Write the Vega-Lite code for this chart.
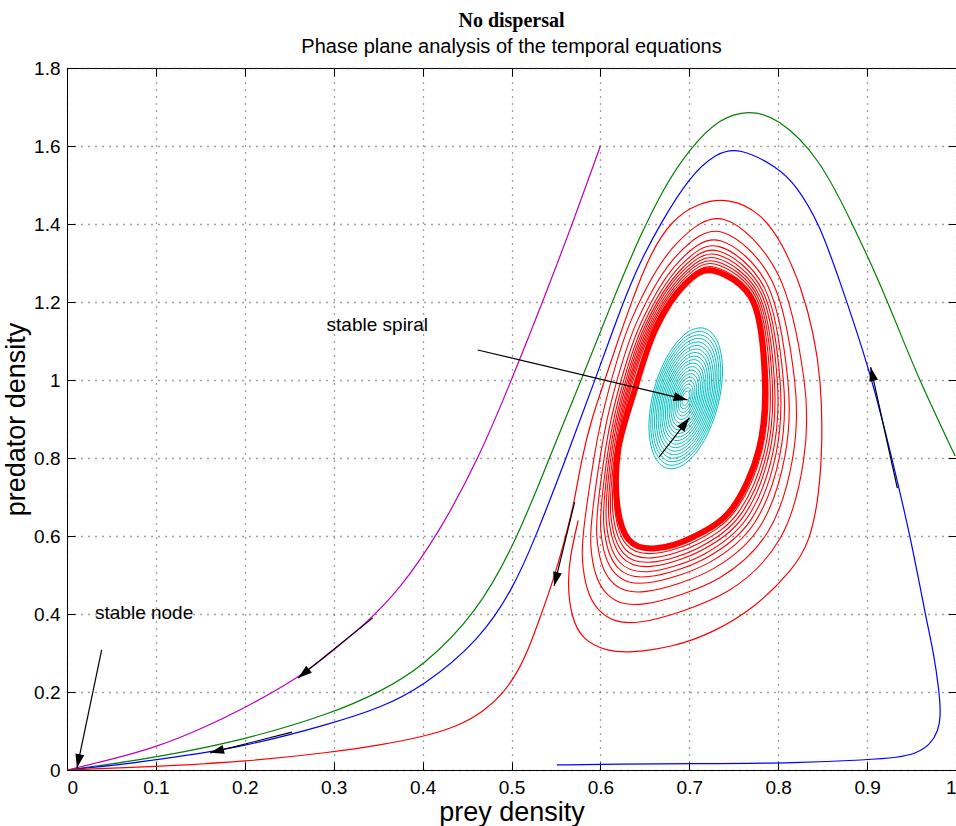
{
"$schema":"https://vega.github.io/schema/vega-lite/v6.json",
"width":889,"height":702,
"autosize":{"type":"none"},
"padding":{"left":67,"top":68,"right":0,"bottom":56},
"background":"white",
"title":{"text":"No dispersal","subtitle":"Phase plane analysis of the temporal equations","font":"Liberation Serif","fontSize":20,"fontWeight":"bold","color":"black","subtitleFont":"Liberation Sans","subtitleFontSize":20,"subtitleColor":"black","subtitlePadding":6,"anchor":"middle","offset":2},
"config":{
"view":{"stroke":"black","strokeWidth":1},
"axis":{"labelFont":"Liberation Sans","labelFontSize":19,"labelColor":"black","titleFont":"Liberation Sans","titleFontSize":27,"titleFontWeight":"normal","titleColor":"black","domainColor":"black","tickColor":"black","gridColor":"#444","gridDash":[1,6],"gridOpacity":1,"gridWidth":1.3,"tickSize":-8}
},
"resolve":{"axis":{"x":"independent","y":"independent"}},
"datasets":{
"open":[
{"s":"m","i":0,"x":0.6,"y":1.6},{"s":"m","i":1,"x":0.569,"y":1.403},{"s":"m","i":2,"x":0.535,"y":1.2},{"s":"m","i":3,"x":0.501,"y":1.005},{"s":"m","i":4,"x":0.464,"y":0.803},{"s":"m","i":5,"x":0.419,"y":0.61},{"s":"m","i":6,"x":0.374,"y":0.462},{"s":"m","i":7,"x":0.337,"y":0.377},{"s":"m","i":8,"x":0.3,"y":0.308},{"s":"m","i":9,"x":0.262,"y":0.238},{"s":"m","i":10,"x":0.2,"y":0.159},{"s":"m","i":11,"x":0.15,"y":0.104},{"s":"m","i":12,"x":0.101,"y":0.059},{"s":"m","i":13,"x":0.05,"y":0.027},{"s":"m","i":14,"x":0,"y":0},
{"s":"g","i":0,"x":0.999,"y":0.805},{"s":"g","i":1,"x":0.958,"y":1.003},{"s":"g","i":2,"x":0.936,"y":1.128},{"s":"g","i":3,"x":0.913,"y":1.256},{"s":"g","i":4,"x":0.883,"y":1.403},{"s":"g","i":5,"x":0.846,"y":1.572},{"s":"g","i":6,"x":0.799,"y":1.674},{"s":"g","i":7,"x":0.767,"y":1.692},{"s":"g","i":8,"x":0.734,"y":1.672},{"s":"g","i":9,"x":0.7,"y":1.592},{"s":"g","i":10,"x":0.672,"y":1.496},{"s":"g","i":11,"x":0.644,"y":1.367},{"s":"g","i":12,"x":0.613,"y":1.2},{"s":"g","i":13,"x":0.58,"y":1.008},{"s":"g","i":14,"x":0.543,"y":0.803},{"s":"g","i":15,"x":0.506,"y":0.59},{"s":"g","i":16,"x":0.461,"y":0.402},{"s":"g","i":17,"x":0.4,"y":0.264},{"s":"g","i":18,"x":0.352,"y":0.2},{"s":"g","i":19,"x":0.299,"y":0.146},{"s":"g","i":20,"x":0.2,"y":0.077},{"s":"g","i":21,"x":0.101,"y":0.033},{"s":"g","i":22,"x":0.05,"y":0.015},{"s":"g","i":23,"x":0,"y":0},
{"s":"b","i":0,"x":0.551,"y":0.013},{"s":"b","i":1,"x":0.621,"y":0.015},{"s":"b","i":2,"x":0.7,"y":0.016},{"s":"b","i":3,"x":0.824,"y":0.018},{"s":"b","i":4,"x":0.899,"y":0.026},{"s":"b","i":5,"x":0.935,"y":0.032},{"s":"b","i":6,"x":0.955,"y":0.042},{"s":"b","i":7,"x":0.971,"y":0.065},{"s":"b","i":8,"x":0.98,"y":0.1},{"s":"b","i":9,"x":0.983,"y":0.14},{"s":"b","i":10,"x":0.981,"y":0.203},{"s":"b","i":11,"x":0.975,"y":0.3},{"s":"b","i":12,"x":0.966,"y":0.392},{"s":"b","i":13,"x":0.949,"y":0.597},{"s":"b","i":14,"x":0.925,"y":0.828},{"s":"b","i":15,"x":0.902,"y":1.033},{"s":"b","i":16,"x":0.869,"y":1.256},{"s":"b","i":17,"x":0.846,"y":1.403},{"s":"b","i":18,"x":0.82,"y":1.5},{"s":"b","i":19,"x":0.799,"y":1.546},{"s":"b","i":20,"x":0.756,"y":1.597},{"s":"b","i":21,"x":0.73,"y":1.582},{"s":"b","i":22,"x":0.7,"y":1.521},{"s":"b","i":23,"x":0.668,"y":1.403},{"s":"b","i":24,"x":0.644,"y":1.3},{"s":"b","i":25,"x":0.625,"y":1.197},{"s":"b","i":26,"x":0.596,"y":1.013},{"s":"b","i":27,"x":0.562,"y":0.803},{"s":"b","i":28,"x":0.526,"y":0.59},{"s":"b","i":29,"x":0.501,"y":0.462},{"s":"b","i":30,"x":0.464,"y":0.333},{"s":"b","i":31,"x":0.4,"y":0.213},{"s":"b","i":32,"x":0.352,"y":0.159},{"s":"b","i":33,"x":0.299,"y":0.12},{"s":"b","i":34,"x":0.2,"y":0.059},{"s":"b","i":35,"x":0.101,"y":0.026},{"s":"b","i":36,"x":0.05,"y":0.011},{"s":"b","i":37,"x":0,"y":0},
{"s":"r","i":0,"x":0.575,"y":0.64},{"s":"r","i":1,"x":0.566,"y":0.55},{"s":"r","i":2,"x":0.563,"y":0.48},{"s":"r","i":3,"x":0.567,"y":0.392},{"s":"r","i":4,"x":0.58,"y":0.333},{"s":"r","i":5,"x":0.607,"y":0.305},{"s":"r","i":6,"x":0.633,"y":0.3},{"s":"r","i":7,"x":0.681,"y":0.315},{"s":"r","i":8,"x":0.726,"y":0.351},{"s":"r","i":9,"x":0.775,"y":0.418},{"s":"r","i":10,"x":0.816,"y":0.513},{"s":"r","i":11,"x":0.835,"y":0.582},{"s":"r","i":12,"x":0.846,"y":0.7},{"s":"r","i":13,"x":0.85,"y":0.85},{"s":"r","i":14,"x":0.848,"y":1.0},{"s":"r","i":15,"x":0.84,"y":1.12},{"s":"r","i":16,"x":0.826,"y":1.238},{"s":"r","i":17,"x":0.805,"y":1.35},{"s":"r","i":18,"x":0.78,"y":1.43},{"s":"r","i":19,"x":0.745,"y":1.467},{"s":"r","i":20,"x":0.71,"y":1.455},{"s":"r","i":21,"x":0.68,"y":1.41},{"s":"r","i":22,"x":0.655,"y":1.32},{"s":"r","i":23,"x":0.635,"y":1.2},{"s":"r","i":24,"x":0.618,"y":1.09},{"s":"r","i":25,"x":0.605,"y":1.0},{"s":"r","i":26,"x":0.59,"y":0.9},{"s":"r","i":27,"x":0.579,"y":0.8},{"s":"r","i":28,"x":0.571,"y":0.69},{"s":"r","i":29,"x":0.56,"y":0.59},{"s":"r","i":30,"x":0.546,"y":0.479},{"s":"r","i":31,"x":0.534,"y":0.403},{"s":"r","i":32,"x":0.521,"y":0.32},{"s":"r","i":33,"x":0.508,"y":0.255},{"s":"r","i":34,"x":0.492,"y":0.2},{"s":"r","i":35,"x":0.47,"y":0.152},{"s":"r","i":36,"x":0.44,"y":0.112},{"s":"r","i":37,"x":0.4,"y":0.085},{"s":"r","i":38,"x":0.352,"y":0.064},{"s":"r","i":39,"x":0.3,"y":0.046},{"s":"r","i":40,"x":0.2,"y":0.021},{"s":"r","i":41,"x":0.1,"y":0.009},{"s":"r","i":42,"x":0,"y":0}
],
"loops":[
{"k":1,"i":0,"x":0.7399,"y":1.411},{"k":1,"i":1,"x":0.8,"y":1.27},{"k":1,"i":2,"x":0.8291,"y":1.0},{"k":1,"i":3,"x":0.8284,"y":0.792},{"k":1,"i":4,"x":0.8019,"y":0.593},{"k":1,"i":5,"x":0.7435,"y":0.459},{"k":1,"i":6,"x":0.646,"y":0.38},{"k":1,"i":7,"x":0.5977,"y":0.412},{"k":1,"i":8,"x":0.5798,"y":0.54},{"k":1,"i":9,"x":0.5884,"y":0.736},{"k":1,"i":10,"x":0.6049,"y":0.935},{"k":1,"i":11,"x":0.6355,"y":1.158},{"k":1,"i":12,"x":0.6845,"y":1.347},
{"k":2,"i":0,"x":0.737,"y":1.379},{"k":2,"i":1,"x":0.7932,"y":1.253},{"k":2,"i":2,"x":0.8184,"y":1.0},{"k":2,"i":3,"x":0.8162,"y":0.799},{"k":2,"i":4,"x":0.7888,"y":0.612},{"k":2,"i":5,"x":0.7342,"y":0.493},{"k":2,"i":6,"x":0.6494,"y":0.426},{"k":2,"i":7,"x":0.606,"y":0.455},{"k":2,"i":8,"x":0.5893,"y":0.574},{"k":2,"i":9,"x":0.5966,"y":0.756},{"k":2,"i":10,"x":0.6122,"y":0.944},{"k":2,"i":11,"x":0.6414,"y":1.151},{"k":2,"i":12,"x":0.687,"y":1.322},
{"k":3,"i":0,"x":0.735,"y":1.357},{"k":3,"i":1,"x":0.7884,"y":1.241},{"k":3,"i":2,"x":0.8108,"y":1.0},{"k":3,"i":3,"x":0.8075,"y":0.804},{"k":3,"i":4,"x":0.7796,"y":0.625},{"k":3,"i":5,"x":0.7276,"y":0.517},{"k":3,"i":6,"x":0.6518,"y":0.458},{"k":3,"i":7,"x":0.6119,"y":0.485},{"k":3,"i":8,"x":0.596,"y":0.598},{"k":3,"i":9,"x":0.6023,"y":0.771},{"k":3,"i":10,"x":0.6174,"y":0.95},{"k":3,"i":11,"x":0.6456,"y":1.146},{"k":3,"i":12,"x":0.6888,"y":1.305},
{"k":4,"i":0,"x":0.7336,"y":1.342},{"k":4,"i":1,"x":0.7852,"y":1.233},{"k":4,"i":2,"x":0.8058,"y":1.0},{"k":4,"i":3,"x":0.8018,"y":0.807},{"k":4,"i":4,"x":0.7734,"y":0.634},{"k":4,"i":5,"x":0.7232,"y":0.533},{"k":4,"i":6,"x":0.6534,"y":0.48},{"k":4,"i":7,"x":0.6158,"y":0.506},{"k":4,"i":8,"x":0.6005,"y":0.614},{"k":4,"i":9,"x":0.6062,"y":0.78},{"k":4,"i":10,"x":0.6208,"y":0.954},{"k":4,"i":11,"x":0.6485,"y":1.143},{"k":4,"i":12,"x":0.6901,"y":1.293},
{"k":5,"i":0,"x":0.7326,"y":1.331},{"k":5,"i":1,"x":0.7828,"y":1.227},{"k":5,"i":2,"x":0.802,"y":1.0},{"k":5,"i":3,"x":0.7974,"y":0.809},{"k":5,"i":4,"x":0.7688,"y":0.64},{"k":5,"i":5,"x":0.7199,"y":0.545},{"k":5,"i":6,"x":0.6546,"y":0.496},{"k":5,"i":7,"x":0.6188,"y":0.521},{"k":5,"i":8,"x":0.6039,"y":0.626},{"k":5,"i":9,"x":0.609,"y":0.788},{"k":5,"i":10,"x":0.6234,"y":0.957},{"k":5,"i":11,"x":0.6506,"y":1.141},{"k":5,"i":12,"x":0.691,"y":1.284},
{"k":6,"i":0,"x":0.7317,"y":1.321},{"k":6,"i":1,"x":0.7808,"y":1.222},{"k":6,"i":2,"x":0.7989,"y":1.0},{"k":6,"i":3,"x":0.7938,"y":0.811},{"k":6,"i":4,"x":0.7649,"y":0.646},{"k":6,"i":5,"x":0.7171,"y":0.554},{"k":6,"i":6,"x":0.6556,"y":0.509},{"k":6,"i":7,"x":0.6212,"y":0.534},{"k":6,"i":8,"x":0.6067,"y":0.636},{"k":6,"i":9,"x":0.6114,"y":0.794},{"k":6,"i":10,"x":0.6255,"y":0.959},{"k":6,"i":11,"x":0.6523,"y":1.139},{"k":6,"i":12,"x":0.6917,"y":1.277},
{"k":7,"i":0,"x":0.7309,"y":1.312},{"k":7,"i":1,"x":0.7788,"y":1.217},{"k":7,"i":2,"x":0.7957,"y":1.0},{"k":7,"i":3,"x":0.7902,"y":0.813},{"k":7,"i":4,"x":0.7611,"y":0.651},{"k":7,"i":5,"x":0.7144,"y":0.564},{"k":7,"i":6,"x":0.6566,"y":0.522},{"k":7,"i":7,"x":0.6237,"y":0.547},{"k":7,"i":8,"x":0.6095,"y":0.646},{"k":7,"i":9,"x":0.6138,"y":0.8},{"k":7,"i":10,"x":0.6277,"y":0.962},{"k":7,"i":11,"x":0.654,"y":1.137},{"k":7,"i":12,"x":0.6925,"y":1.27},
{"k":8,"i":0,"x":0.7302,"y":1.304},{"k":8,"i":1,"x":0.7772,"y":1.213},{"k":8,"i":2,"x":0.7932,"y":1.0},{"k":8,"i":3,"x":0.7874,"y":0.815},{"k":8,"i":4,"x":0.758,"y":0.656},{"k":8,"i":5,"x":0.7122,"y":0.572},{"k":8,"i":6,"x":0.6574,"y":0.533},{"k":8,"i":7,"x":0.6256,"y":0.557},{"k":8,"i":8,"x":0.6117,"y":0.654},{"k":8,"i":9,"x":0.6158,"y":0.804},{"k":8,"i":10,"x":0.6294,"y":0.964},{"k":8,"i":11,"x":0.6555,"y":1.135},{"k":8,"i":12,"x":0.693,"y":1.264},
{"k":9,"i":0,"x":0.7295,"y":1.297},{"k":9,"i":1,"x":0.7756,"y":1.209},{"k":9,"i":2,"x":0.7907,"y":1.0},{"k":9,"i":3,"x":0.7845,"y":0.816},{"k":9,"i":4,"x":0.7549,"y":0.66},{"k":9,"i":5,"x":0.71,"y":0.58},{"k":9,"i":6,"x":0.6582,"y":0.544},{"k":9,"i":7,"x":0.6276,"y":0.567},{"k":9,"i":8,"x":0.614,"y":0.662},{"k":9,"i":9,"x":0.6177,"y":0.809},{"k":9,"i":10,"x":0.6311,"y":0.966},{"k":9,"i":11,"x":0.6569,"y":1.134},{"k":9,"i":12,"x":0.6937,"y":1.258},
{"k":10,"i":0,"x":0.7289,"y":1.289},{"k":10,"i":1,"x":0.774,"y":1.205},{"k":10,"i":2,"x":0.7882,"y":1.0},{"k":10,"i":3,"x":0.7816,"y":0.818},{"k":10,"i":4,"x":0.7519,"y":0.665},{"k":10,"i":5,"x":0.7078,"y":0.588},{"k":10,"i":6,"x":0.659,"y":0.555},{"k":10,"i":7,"x":0.6296,"y":0.577},{"k":10,"i":8,"x":0.6162,"y":0.67},{"k":10,"i":9,"x":0.6196,"y":0.814},{"k":10,"i":10,"x":0.6329,"y":0.968},{"k":10,"i":11,"x":0.6583,"y":1.132},{"k":10,"i":12,"x":0.6943,"y":1.252}
],
"band":[
{"i":0,"x":0.728,"y":1.28},{"i":1,"x":0.772,"y":1.2},{"i":2,"x":0.785,"y":1.0},{"i":3,"x":0.778,"y":0.82},{"i":4,"x":0.748,"y":0.67},{"i":5,"x":0.705,"y":0.598},{"i":6,"x":0.66,"y":0.568},{"i":7,"x":0.632,"y":0.59},{"i":8,"x":0.619,"y":0.68},{"i":9,"x":0.62,"y":0.82},{"i":10,"x":0.638,"y":0.97},{"i":11,"x":0.662,"y":1.13},{"i":12,"x":0.695,"y":1.245}
],
"cyan":[
{"k":1,"i":0,"x":0.7168,"y":1.1325},{"k":1,"i":1,"x":0.7319,"y":1.0976},{"k":1,"i":2,"x":0.7374,"y":1.024},{"k":1,"i":3,"x":0.7318,"y":0.9314},{"k":1,"i":4,"x":0.7167,"y":0.8445},{"k":1,"i":5,"x":0.6959,"y":0.7867},{"k":1,"i":6,"x":0.6752,"y":0.7735},{"k":1,"i":7,"x":0.6601,"y":0.8084},{"k":1,"i":8,"x":0.6546,"y":0.882},{"k":1,"i":9,"x":0.6602,"y":0.9746},{"k":1,"i":10,"x":0.6754,"y":1.0615},{"k":1,"i":11,"x":0.6961,"y":1.1193},
{"k":2,"i":0,"x":0.7158,"y":1.1235},{"k":2,"i":1,"x":0.7301,"y":1.0904},{"k":2,"i":2,"x":0.7354,"y":1.0205},{"k":2,"i":3,"x":0.7301,"y":0.9325},{"k":2,"i":4,"x":0.7156,"y":0.85},{"k":2,"i":5,"x":0.6959,"y":0.7951},{"k":2,"i":6,"x":0.6763,"y":0.7825},{"k":2,"i":7,"x":0.6619,"y":0.8156},{"k":2,"i":8,"x":0.6566,"y":0.8855},{"k":2,"i":9,"x":0.662,"y":0.9735},{"k":2,"i":10,"x":0.6764,"y":1.056},{"k":2,"i":11,"x":0.6961,"y":1.111},
{"k":3,"i":0,"x":0.7147,"y":1.1145},{"k":3,"i":1,"x":0.7283,"y":1.0832},{"k":3,"i":2,"x":0.7333,"y":1.0169},{"k":3,"i":3,"x":0.7283,"y":0.9335},{"k":3,"i":4,"x":0.7146,"y":0.8554},{"k":3,"i":5,"x":0.6959,"y":0.8034},{"k":3,"i":6,"x":0.6773,"y":0.7915},{"k":3,"i":7,"x":0.6637,"y":0.8228},{"k":3,"i":8,"x":0.6587,"y":0.8891},{"k":3,"i":9,"x":0.6637,"y":0.9725},{"k":3,"i":10,"x":0.6774,"y":1.0506},{"k":3,"i":11,"x":0.6961,"y":1.1026},
{"k":4,"i":0,"x":0.7137,"y":1.1056},{"k":4,"i":1,"x":0.7265,"y":1.0759},{"k":4,"i":2,"x":0.7312,"y":1.0134},{"k":4,"i":3,"x":0.7265,"y":0.9346},{"k":4,"i":4,"x":0.7136,"y":0.8608},{"k":4,"i":5,"x":0.6959,"y":0.8117},{"k":4,"i":6,"x":0.6783,"y":0.8004},{"k":4,"i":7,"x":0.6655,"y":0.8301},{"k":4,"i":8,"x":0.6608,"y":0.8926},{"k":4,"i":9,"x":0.6655,"y":0.9714},{"k":4,"i":10,"x":0.6785,"y":1.0452},{"k":4,"i":11,"x":0.6961,"y":1.0943},
{"k":5,"i":0,"x":0.7126,"y":1.0966},{"k":5,"i":1,"x":0.7247,"y":1.0687},{"k":5,"i":2,"x":0.7292,"y":1.0098},{"k":5,"i":3,"x":0.7247,"y":0.9357},{"k":5,"i":4,"x":0.7125,"y":0.8662},{"k":5,"i":5,"x":0.6959,"y":0.82},{"k":5,"i":6,"x":0.6794,"y":0.8094},{"k":5,"i":7,"x":0.6673,"y":0.8373},{"k":5,"i":8,"x":0.6629,"y":0.8962},{"k":5,"i":9,"x":0.6673,"y":0.9703},{"k":5,"i":10,"x":0.6795,"y":1.0398},{"k":5,"i":11,"x":0.6961,"y":1.086},
{"k":6,"i":0,"x":0.7116,"y":1.0876},{"k":6,"i":1,"x":0.7229,"y":1.0615},{"k":6,"i":2,"x":0.7271,"y":1.0063},{"k":6,"i":3,"x":0.7229,"y":0.9368},{"k":6,"i":4,"x":0.7115,"y":0.8717},{"k":6,"i":5,"x":0.6959,"y":0.8283},{"k":6,"i":6,"x":0.6804,"y":0.8184},{"k":6,"i":7,"x":0.6691,"y":0.8445},{"k":6,"i":8,"x":0.6649,"y":0.8997},{"k":6,"i":9,"x":0.6691,"y":0.9692},{"k":6,"i":10,"x":0.6805,"y":1.0344},{"k":6,"i":11,"x":0.6961,"y":1.0777},
{"k":7,"i":0,"x":0.7106,"y":1.0786},{"k":7,"i":1,"x":0.7211,"y":1.0542},{"k":7,"i":2,"x":0.725,"y":1.0027},{"k":7,"i":3,"x":0.7211,"y":0.9379},{"k":7,"i":4,"x":0.7105,"y":0.8771},{"k":7,"i":5,"x":0.6959,"y":0.8366},{"k":7,"i":6,"x":0.6815,"y":0.8274},{"k":7,"i":7,"x":0.6709,"y":0.8518},{"k":7,"i":8,"x":0.667,"y":0.9033},{"k":7,"i":9,"x":0.6709,"y":0.9681},{"k":7,"i":10,"x":0.6815,"y":1.0289},{"k":7,"i":11,"x":0.6961,"y":1.0694},
{"k":8,"i":0,"x":0.7095,"y":1.0697},{"k":8,"i":1,"x":0.7194,"y":1.047},{"k":8,"i":2,"x":0.7229,"y":0.9992},{"k":8,"i":3,"x":0.7193,"y":0.939},{"k":8,"i":4,"x":0.7094,"y":0.8825},{"k":8,"i":5,"x":0.696,"y":0.8449},{"k":8,"i":6,"x":0.6825,"y":0.8363},{"k":8,"i":7,"x":0.6727,"y":0.859},{"k":8,"i":8,"x":0.6691,"y":0.9068},{"k":8,"i":9,"x":0.6727,"y":0.9671},{"k":8,"i":10,"x":0.6826,"y":1.0235},{"k":8,"i":11,"x":0.6961,"y":1.0611},
{"k":9,"i":0,"x":0.7085,"y":1.0607},{"k":9,"i":1,"x":0.7176,"y":1.0398},{"k":9,"i":2,"x":0.7209,"y":0.9956},{"k":9,"i":3,"x":0.7175,"y":0.94},{"k":9,"i":4,"x":0.7084,"y":0.8879},{"k":9,"i":5,"x":0.696,"y":0.8532},{"k":9,"i":6,"x":0.6835,"y":0.8453},{"k":9,"i":7,"x":0.6745,"y":0.8662},{"k":9,"i":8,"x":0.6711,"y":0.9104},{"k":9,"i":9,"x":0.6745,"y":0.966},{"k":9,"i":10,"x":0.6836,"y":1.0181},{"k":9,"i":11,"x":0.6961,"y":1.0528},
{"k":10,"i":0,"x":0.7074,"y":1.0517},{"k":10,"i":1,"x":0.7158,"y":1.0325},{"k":10,"i":2,"x":0.7188,"y":0.9921},{"k":10,"i":3,"x":0.7157,"y":0.9411},{"k":10,"i":4,"x":0.7074,"y":0.8934},{"k":10,"i":5,"x":0.696,"y":0.8616},{"k":10,"i":6,"x":0.6846,"y":0.8543},{"k":10,"i":7,"x":0.6762,"y":0.8735},{"k":10,"i":8,"x":0.6732,"y":0.9139},{"k":10,"i":9,"x":0.6763,"y":0.9649},{"k":10,"i":10,"x":0.6846,"y":1.0127},{"k":10,"i":11,"x":0.696,"y":1.0444},
{"k":11,"i":0,"x":0.7064,"y":1.0428},{"k":11,"i":1,"x":0.714,"y":1.0253},{"k":11,"i":2,"x":0.7167,"y":0.9885},{"k":11,"i":3,"x":0.7139,"y":0.9422},{"k":11,"i":4,"x":0.7063,"y":0.8988},{"k":11,"i":5,"x":0.696,"y":0.8699},{"k":11,"i":6,"x":0.6856,"y":0.8633},{"k":11,"i":7,"x":0.678,"y":0.8807},{"k":11,"i":8,"x":0.6753,"y":0.9175},{"k":11,"i":9,"x":0.6781,"y":0.9638},{"k":11,"i":10,"x":0.6857,"y":1.0072},{"k":11,"i":11,"x":0.696,"y":1.0361},
{"k":12,"i":0,"x":0.7054,"y":1.0338},{"k":12,"i":1,"x":0.7122,"y":1.0181},{"k":12,"i":2,"x":0.7147,"y":0.985},{"k":12,"i":3,"x":0.7121,"y":0.9433},{"k":12,"i":4,"x":0.7053,"y":0.9042},{"k":12,"i":5,"x":0.696,"y":0.8782},{"k":12,"i":6,"x":0.6866,"y":0.8722},{"k":12,"i":7,"x":0.6798,"y":0.8879},{"k":12,"i":8,"x":0.6774,"y":0.921},{"k":12,"i":9,"x":0.6799,"y":0.9627},{"k":12,"i":10,"x":0.6867,"y":1.0018},{"k":12,"i":11,"x":0.696,"y":1.0278},
{"k":13,"i":0,"x":0.7043,"y":1.0248},{"k":13,"i":1,"x":0.7104,"y":1.0109},{"k":13,"i":2,"x":0.7126,"y":0.9814},{"k":13,"i":3,"x":0.7103,"y":0.9444},{"k":13,"i":4,"x":0.7043,"y":0.9096},{"k":13,"i":5,"x":0.696,"y":0.8865},{"k":13,"i":6,"x":0.6877,"y":0.8812},{"k":13,"i":7,"x":0.6816,"y":0.8952},{"k":13,"i":8,"x":0.6794,"y":0.9246},{"k":13,"i":9,"x":0.6817,"y":0.9617},{"k":13,"i":10,"x":0.6877,"y":0.9964},{"k":13,"i":11,"x":0.696,"y":1.0195},
{"k":14,"i":0,"x":0.7033,"y":1.0158},{"k":14,"i":1,"x":0.7086,"y":1.0036},{"k":14,"i":2,"x":0.7105,"y":0.9779},{"k":14,"i":3,"x":0.7085,"y":0.9454},{"k":14,"i":4,"x":0.7032,"y":0.915},{"k":14,"i":5,"x":0.696,"y":0.8948},{"k":14,"i":6,"x":0.6887,"y":0.8902},{"k":14,"i":7,"x":0.6834,"y":0.9024},{"k":14,"i":8,"x":0.6815,"y":0.9281},{"k":14,"i":9,"x":0.6835,"y":0.9606},{"k":14,"i":10,"x":0.6888,"y":0.991},{"k":14,"i":11,"x":0.696,"y":1.0112},
{"k":15,"i":0,"x":0.7022,"y":1.0069},{"k":15,"i":1,"x":0.7068,"y":0.9964},{"k":15,"i":2,"x":0.7084,"y":0.9743},{"k":15,"i":3,"x":0.7068,"y":0.9465},{"k":15,"i":4,"x":0.7022,"y":0.9205},{"k":15,"i":5,"x":0.696,"y":0.9031},{"k":15,"i":6,"x":0.6898,"y":0.8992},{"k":15,"i":7,"x":0.6852,"y":0.9096},{"k":15,"i":8,"x":0.6836,"y":0.9317},{"k":15,"i":9,"x":0.6853,"y":0.9595},{"k":15,"i":10,"x":0.6898,"y":0.9855},{"k":15,"i":11,"x":0.696,"y":1.0029},
{"k":16,"i":0,"x":0.7012,"y":0.9979},{"k":16,"i":1,"x":0.705,"y":0.9892},{"k":16,"i":2,"x":0.7064,"y":0.9708},{"k":16,"i":3,"x":0.705,"y":0.9476},{"k":16,"i":4,"x":0.7012,"y":0.9259},{"k":16,"i":5,"x":0.696,"y":0.9114},{"k":16,"i":6,"x":0.6908,"y":0.9081},{"k":16,"i":7,"x":0.687,"y":0.9169},{"k":16,"i":8,"x":0.6856,"y":0.9352},{"k":16,"i":9,"x":0.687,"y":0.9584},{"k":16,"i":10,"x":0.6908,"y":0.9801},{"k":16,"i":11,"x":0.696,"y":0.9946},
{"k":17,"i":0,"x":0.7002,"y":0.9889},{"k":17,"i":1,"x":0.7032,"y":0.9819},{"k":17,"i":2,"x":0.7043,"y":0.9672},{"k":17,"i":3,"x":0.7032,"y":0.9487},{"k":17,"i":4,"x":0.7001,"y":0.9313},{"k":17,"i":5,"x":0.696,"y":0.9198},{"k":17,"i":6,"x":0.6918,"y":0.9171},{"k":17,"i":7,"x":0.6888,"y":0.9241},{"k":17,"i":8,"x":0.6877,"y":0.9388},{"k":17,"i":9,"x":0.6888,"y":0.9573},{"k":17,"i":10,"x":0.6919,"y":0.9747},{"k":17,"i":11,"x":0.696,"y":0.9863},
{"k":18,"i":0,"x":0.6991,"y":0.9799},{"k":18,"i":1,"x":0.7014,"y":0.9747},{"k":18,"i":2,"x":0.7022,"y":0.9637},{"k":18,"i":3,"x":0.7014,"y":0.9498},{"k":18,"i":4,"x":0.6991,"y":0.9367},{"k":18,"i":5,"x":0.696,"y":0.9281},{"k":18,"i":6,"x":0.6929,"y":0.9261},{"k":18,"i":7,"x":0.6906,"y":0.9313},{"k":18,"i":8,"x":0.6898,"y":0.9424},{"k":18,"i":9,"x":0.6906,"y":0.9562},{"k":18,"i":10,"x":0.6929,"y":0.9693},{"k":18,"i":11,"x":0.696,"y":0.9779},
{"k":19,"i":0,"x":0.6981,"y":0.971},{"k":19,"i":1,"x":0.6996,"y":0.9675},{"k":19,"i":2,"x":0.7001,"y":0.9601},{"k":19,"i":3,"x":0.6996,"y":0.9508},{"k":19,"i":4,"x":0.6981,"y":0.9422},{"k":19,"i":5,"x":0.696,"y":0.9364},{"k":19,"i":6,"x":0.6939,"y":0.9351},{"k":19,"i":7,"x":0.6924,"y":0.9385},{"k":19,"i":8,"x":0.6919,"y":0.9459},{"k":19,"i":9,"x":0.6924,"y":0.9552},{"k":19,"i":10,"x":0.6939,"y":0.9639},{"k":19,"i":11,"x":0.696,"y":0.9696}
],
"arrows":[
{"x":0.462,"y":1.077,"x2":0.698,"y2":0.949},
{"x":0.666,"y":0.802,"x2":0.7,"y2":0.903},
{"x":0.039,"y":0.308,"x2":0.0112,"y2":0.005},
{"x":0.344,"y":0.39,"x2":0.26,"y2":0.236},
{"x":0.253,"y":0.097,"x2":0.161,"y2":0.044},
{"x":0.571,"y":0.687,"x2":0.548,"y2":0.472},
{"x":0.934,"y":0.723,"x2":0.904,"y2":1.033}
],
"labels":[
{"x":0.292,"y":1.141,"t":"stable spiral"},
{"x":0.0315,"y":0.403,"t":"stable node"}
]
},
"layer":[
{
"data":{"name":"open"},
"mark":{"type":"line","interpolate":"basis","strokeWidth":1.2,"clip":true},
"encoding":{
"x":{"field":"x","type":"quantitative","scale":{"domain":[0,1],"nice":false,"zero":false},"axis":{"orient":"bottom","values":[0,0.1,0.2,0.3,0.4,0.5,0.6,0.7,0.8,0.9,1],"format":"~g","grid":true,"title":"prey density","labelPadding":16,"titlePadding":2}},
"y":{"field":"y","type":"quantitative","scale":{"domain":[0,1.8],"nice":false,"zero":false},"axis":{"orient":"left","values":[0,0.2,0.4,0.6,0.8,1,1.2,1.4,1.6,1.8],"format":"~g","grid":true,"title":"predator density","labelPadding":15,"titlePadding":3}},
"color":{"field":"s","type":"nominal","scale":{"domain":["m","g","b","r"],"range":["#bf00bf","#008000","#0000ff","#ff0000"]},"legend":null},
"order":{"field":"i","type":"quantitative"}
}
},
{
"data":{"name":"loops"},
"mark":{"type":"line","interpolate":"cardinal-closed","strokeWidth":1.1,"color":"#ff0000","clip":true},
"encoding":{
"x":{"field":"x","type":"quantitative","scale":{"domain":[0,1],"nice":false,"zero":false},"axis":{"orient":"top","values":[0,0.1,0.2,0.3,0.4,0.5,0.6,0.7,0.8,0.9,1],"labels":false,"grid":false,"domain":false,"title":null}},
"y":{"field":"y","type":"quantitative","scale":{"domain":[0,1.8],"nice":false,"zero":false},"axis":{"orient":"right","values":[0,0.2,0.4,0.6,0.8,1,1.2,1.4,1.6,1.8],"labels":false,"grid":false,"domain":false,"title":null}},
"detail":{"field":"k","type":"nominal"},
"order":{"field":"i","type":"quantitative"}
}
},
{
"data":{"name":"band"},
"mark":{"type":"line","interpolate":"cardinal-closed","strokeWidth":6,"color":"#ff0000"},
"encoding":{
"x":{"field":"x","type":"quantitative","scale":{"domain":[0,1],"nice":false,"zero":false},"axis":null},
"y":{"field":"y","type":"quantitative","scale":{"domain":[0,1.8],"nice":false,"zero":false},"axis":null},
"order":{"field":"i","type":"quantitative"}
}
},
{
"data":{"name":"cyan"},
"mark":{"type":"line","interpolate":"cardinal-closed","strokeWidth":1,"color":"#00bfbf"},
"encoding":{
"x":{"field":"x","type":"quantitative","scale":{"domain":[0,1],"nice":false,"zero":false},"axis":null},
"y":{"field":"y","type":"quantitative","scale":{"domain":[0,1.8],"nice":false,"zero":false},"axis":null},
"detail":{"field":"k","type":"nominal"},
"order":{"field":"i","type":"quantitative"}
}
},
{
"data":{"name":"arrows"},
"mark":{"type":"rule","color":"black","strokeWidth":1.2},
"encoding":{
"x":{"field":"x","type":"quantitative","scale":{"domain":[0,1],"nice":false,"zero":false},"axis":null},
"y":{"field":"y","type":"quantitative","scale":{"domain":[0,1.8],"nice":false,"zero":false},"axis":null},
"x2":{"field":"x2"},
"y2":{"field":"y2"}
}
},
{
"data":{"name":"arrows"},
"transform":[{"calculate":"atan2((datum.x2-datum.x)*889,(datum.y2-datum.y)*390)*180/PI","as":"ang"}],
"mark":{"type":"point","shape":"M0,0L0.32,1L-0.32,1Z","filled":true,"color":"black","opacity":1,"size":780,"strokeWidth":0},
"encoding":{
"x":{"field":"x2","type":"quantitative","scale":{"domain":[0,1],"nice":false,"zero":false},"axis":null},
"y":{"field":"y2","type":"quantitative","scale":{"domain":[0,1.8],"nice":false,"zero":false},"axis":null},
"angle":{"field":"ang","type":"quantitative","scale":null}
}
},
{
"data":{"name":"labels"},
"mark":{"type":"text","align":"left","baseline":"middle","font":"Liberation Sans","fontSize":19,"color":"black"},
"encoding":{
"x":{"field":"x","type":"quantitative","scale":{"domain":[0,1],"nice":false,"zero":false},"axis":null},
"y":{"field":"y","type":"quantitative","scale":{"domain":[0,1.8],"nice":false,"zero":false},"axis":null},
"text":{"field":"t"}
}
}
]
}
